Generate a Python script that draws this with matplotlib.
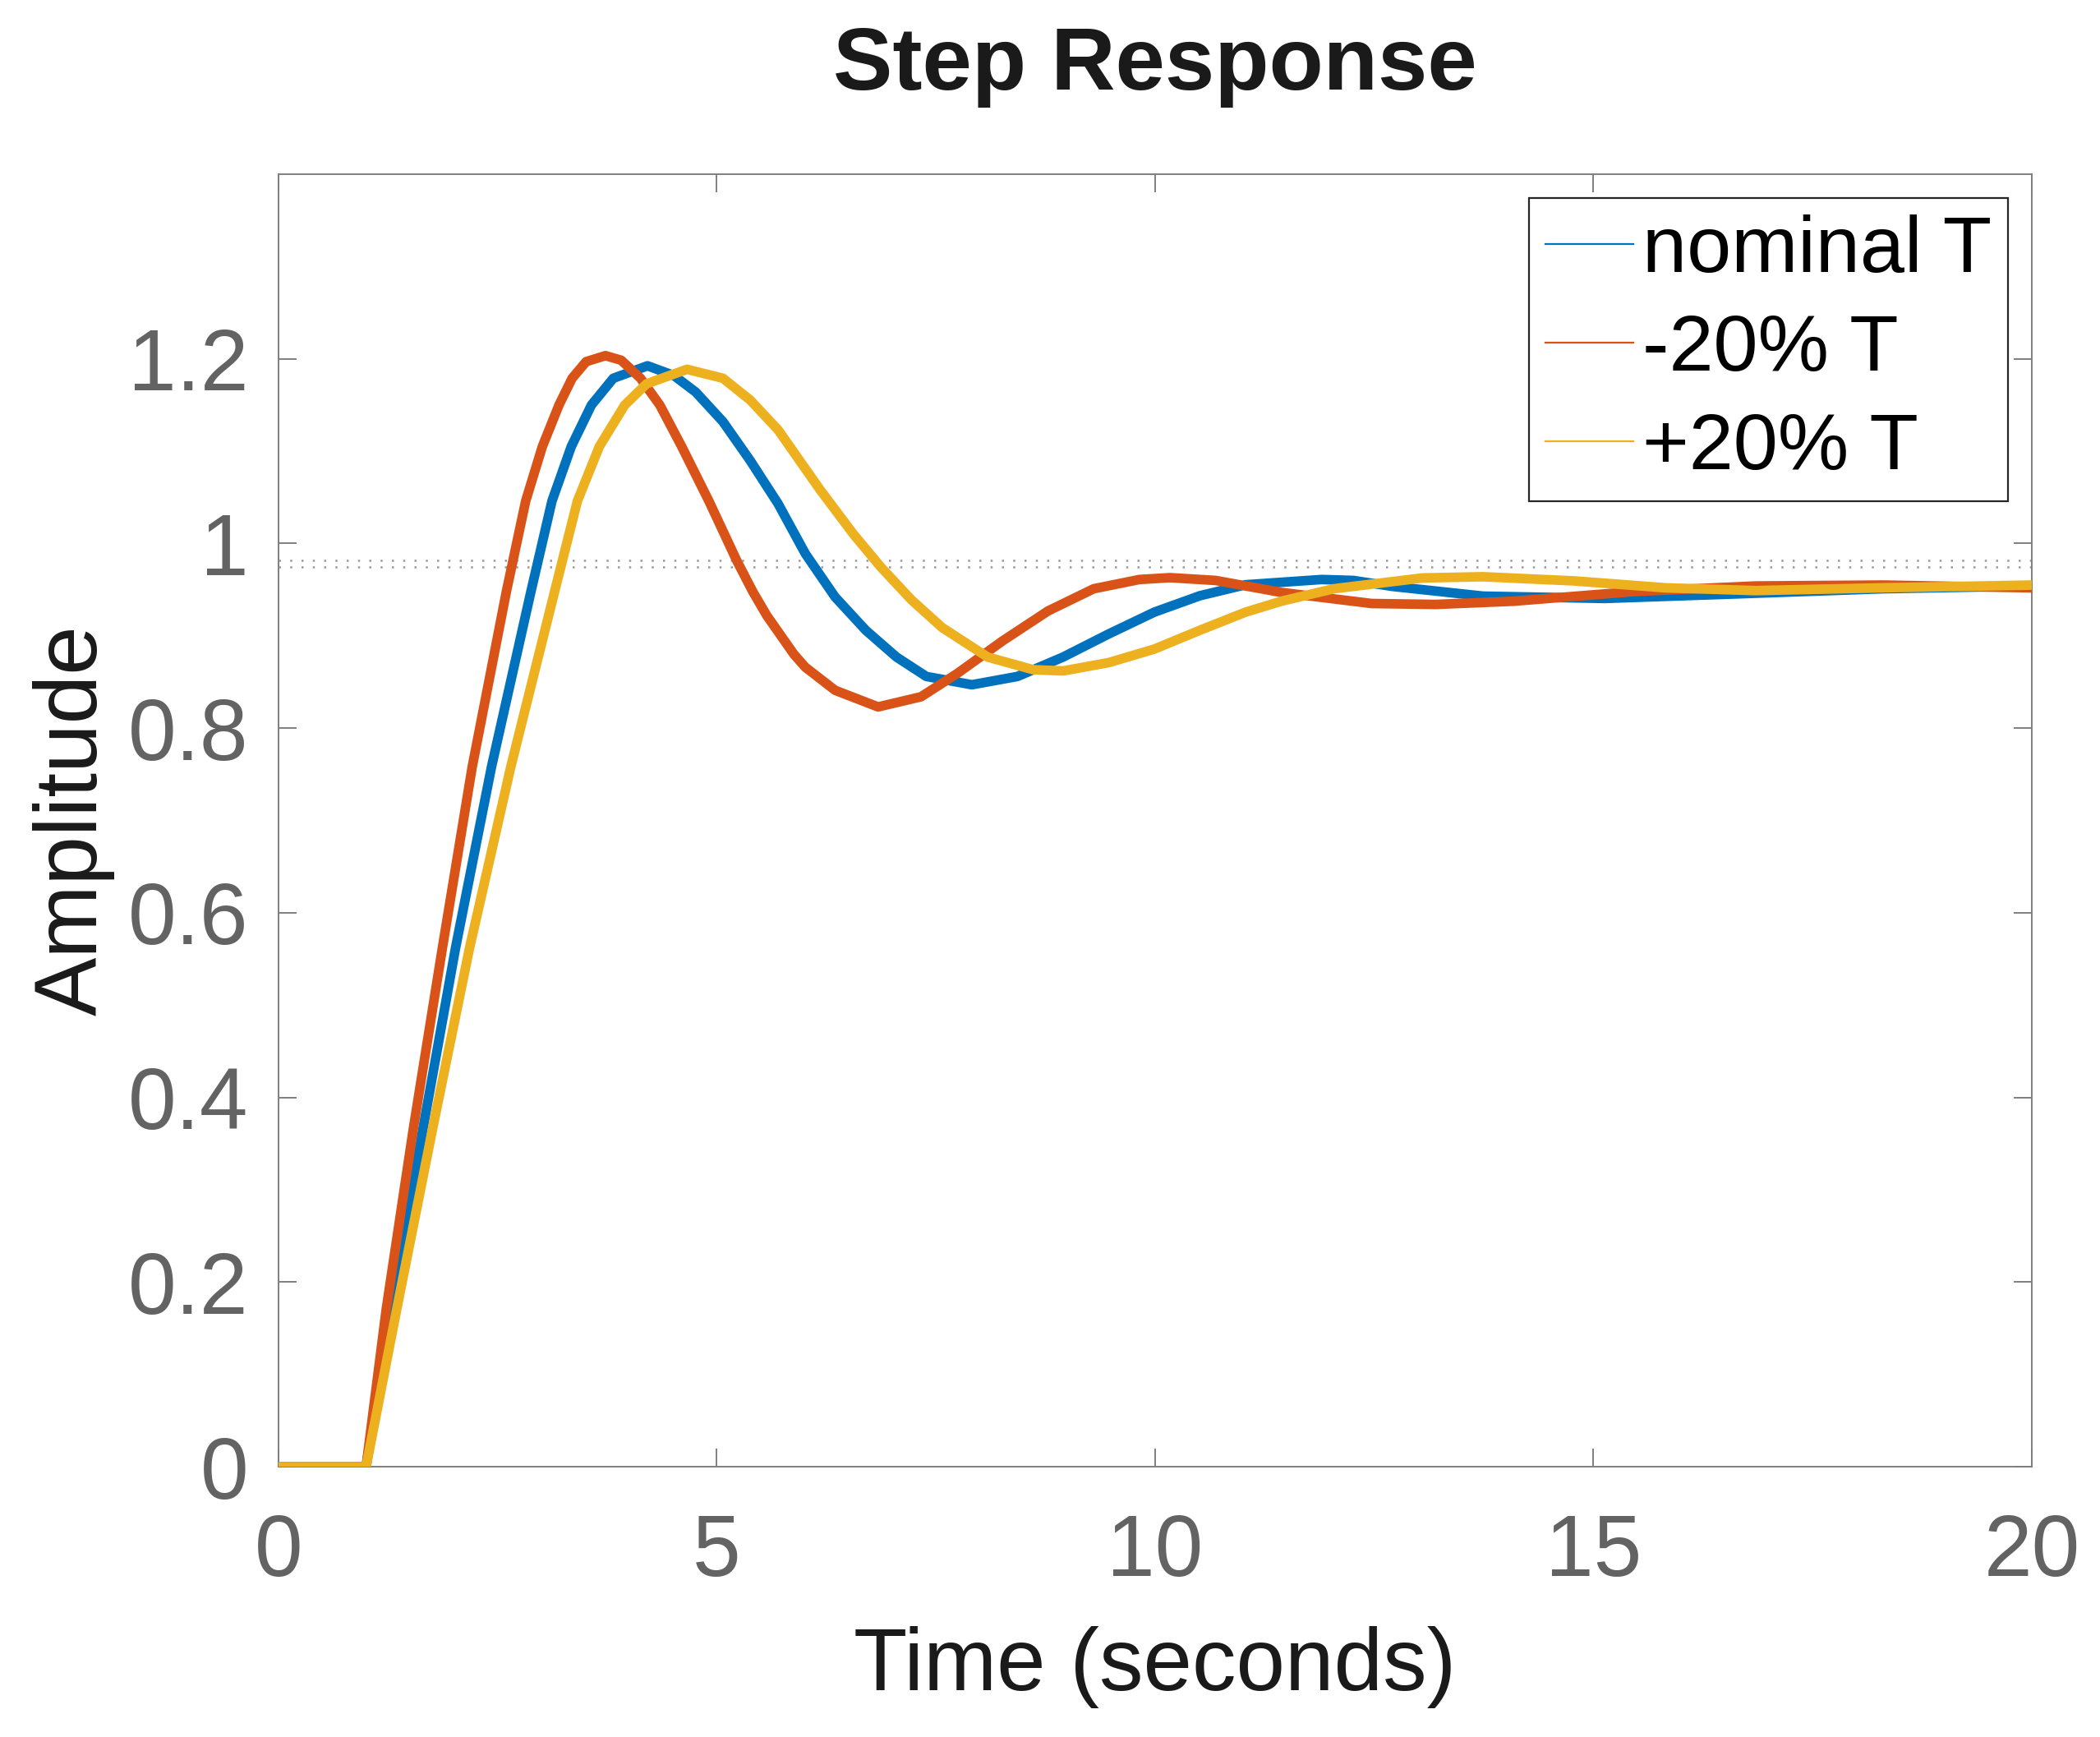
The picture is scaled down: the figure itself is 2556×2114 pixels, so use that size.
import matplotlib.pyplot as plt

plt.rcParams['font.family'] = ['Liberation Sans', 'DejaVu Sans']

t_nominal = [0, 1.0, 1.29, 1.65, 2.02, 2.43, 2.88, 3.12, 3.34, 3.57, 3.82, 4.21, 4.51, 4.76,
             5.07, 5.38, 5.70, 6.01, 6.35, 6.70, 7.05, 7.39, 7.91, 8.43, 8.95, 9.47, 9.99,
             10.51, 11.03, 11.44, 11.9, 12.26, 12.71, 13.74, 15.13, 16.51, 18.3, 20]
y_nominal = [0, 0, 0.171, 0.367, 0.562, 0.758, 0.948, 1.046, 1.105, 1.150, 1.179, 1.1925, 1.182, 1.164,
             1.132, 1.090, 1.043, 0.989, 0.942, 0.906, 0.877, 0.856, 0.847, 0.856, 0.877, 0.902, 0.9256,
             0.9434, 0.9553, 0.958, 0.961, 0.960, 0.9535, 0.943, 0.9405, 0.945, 0.951, 0.954]

t_minus = [0, 1.0, 1.23, 1.54, 1.87, 2.21, 2.60, 2.82, 3.01, 3.20, 3.35, 3.51, 3.73, 3.91,
           4.13, 4.35, 4.60, 4.91, 5.23, 5.41, 5.57, 5.88, 6.01, 6.35, 6.84, 7.33, 7.74,
           8.26, 8.78, 9.30, 9.82, 10.17, 10.69, 11.44, 12.47, 13.2, 14.09, 15.47, 16.85, 18.3, 20]
y_minus = [0, 0, 0.171, 0.367, 0.562, 0.758, 0.948, 1.046, 1.105, 1.150, 1.179, 1.197, 1.2035, 1.1985,
           1.179, 1.150, 1.105, 1.046, 0.981, 0.948, 0.922, 0.880, 0.866, 0.841, 0.823, 0.834, 0.859,
           0.8945, 0.927, 0.951, 0.961, 0.963, 0.960, 0.947, 0.935, 0.934, 0.9375, 0.948, 0.954, 0.955, 0.952]

t_plus = [0, 1.0, 1.35, 1.76, 2.18, 2.65, 3.15, 3.41, 3.66, 3.95, 4.20, 4.66, 5.07, 5.38,
          5.70, 6.01, 6.18, 6.56, 6.87, 7.22, 7.57, 8.09, 8.61, 8.95, 9.47, 9.99, 10.51,
          11.03, 11.44, 12.04, 13.05, 13.74, 14.78, 15.82, 16.85, 18.3, 20]
y_plus = [0, 0, 0.171, 0.367, 0.562, 0.758, 0.948, 1.046, 1.105, 1.150, 1.173, 1.1887, 1.179, 1.1555,
          1.123, 1.081, 1.058, 1.010, 0.9746, 0.939, 0.909, 0.877, 0.8633, 0.862, 0.871, 0.8856, 0.906,
          0.9256, 0.9375, 0.951, 0.9627, 0.964, 0.9595, 0.952, 0.949, 0.952, 0.955]

final_values = [0.982, 0.975]

labels = ['nominal T', '-20% T', '+20% T']
colors = ['#0072BD', '#D95319', '#EDB120']

xticks = [0, 5, 10, 15, 20]
yticks = [0, 0.2, 0.4, 0.6, 0.8, 1.0, 1.2]
ytick_labels = ['0', '0.2', '0.4', '0.6', '0.8', '1', '1.2']

fig = plt.figure(figsize=(12.78, 10.57), dpi=200)
ax = fig.add_axes([0.1326, 0.1556, 0.8349, 0.7441])

for yv in final_values:
    ax.axhline(yv, color='#9a9a9a', lw=0.9, ls=(0, (1.0, 4.5)), zorder=1)

series = [(t_nominal, y_nominal), (t_minus, y_minus), (t_plus, y_plus)]
for (t, y), lab, c in zip(series, labels, colors):
    ax.plot(t, y, color=c, lw=4.2, label=lab, solid_joinstyle='round', zorder=3)

ax.set_xlim(0, 20)
ax.set_ylim(0, 1.4)
ax.set_xticks(xticks)
ax.set_xticklabels([str(v) for v in xticks])
ax.set_yticks(yticks)
ax.set_yticklabels(ytick_labels)

for s in ax.spines.values():
    s.set_color('#7f7f7f')
    s.set_linewidth(0.7)
ax.tick_params(direction='in', length=8, width=0.7, color='#7f7f7f',
               top=True, right=True, labelsize=38, labelcolor='#636363')
ax.tick_params(axis='x', pad=20)
ax.tick_params(axis='y', pad=13)

ax.set_title('Step Response', fontsize=39, fontweight='bold', pad=37, color='#1a1a1a')
ax.set_xlabel('Time (seconds)', fontsize=38.5, labelpad=14, color='#1a1a1a')
ax.set_ylabel('Amplitude', fontsize=38.5, labelpad=6, color='#1a1a1a')

leg = ax.legend(loc='upper right', fontsize=35, fancybox=False, framealpha=1,
                edgecolor='#262626', borderaxespad=0.3, borderpad=0.2,
                labelspacing=0.31, handlelength=1.1, handletextpad=0.12)
leg.get_frame().set_linewidth(0.8)
for h in leg.get_lines():
    h.set_linewidth(0.8)

fig.savefig('out.png', dpi=200)
